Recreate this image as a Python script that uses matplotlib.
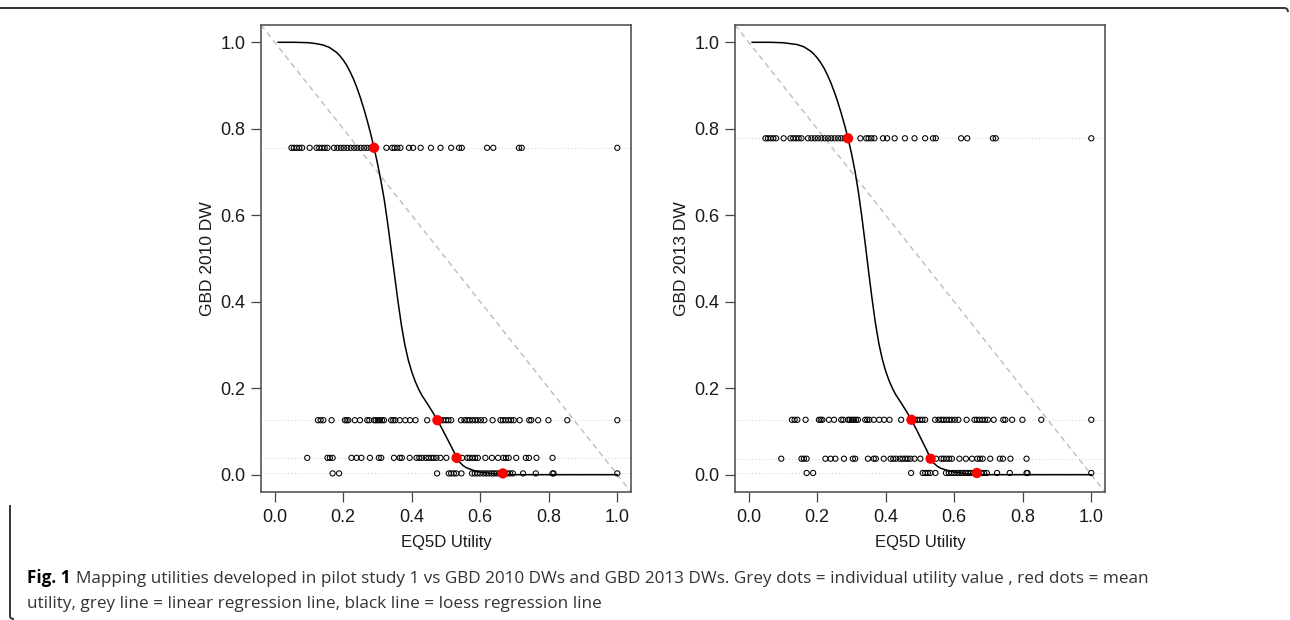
#!/usr/bin/env python3
"""
Mapping EQ5D utilities from pilot study 1 onto GBD 2010 and GBD 2013
disability weights: individual utilities per health state, mean utility,
a linear reference line and the loess fit.

Output: out.png
"""

import matplotlib.pyplot as plt
from matplotlib.path import Path
from matplotlib.patches import PathPatch

plt.rcParams["font.family"] = ["Liberation Sans", "DejaVu Sans"]

# ================================
# Data
# ================================

# individual EQ5D utilities, one list per health state (most to least severe)
UTIL_STATE_1 = [
    0.049, 0.056, 0.064, 0.072, 0.080, 0.102, 0.122, 0.130, 0.138, 0.146,
    0.154, 0.173, 0.183, 0.193, 0.202, 0.212, 0.222, 0.232, 0.241, 0.251,
    0.261, 0.270, 0.280, 0.326, 0.343, 0.350, 0.358, 0.367, 0.392, 0.404,
    0.426, 0.456, 0.484, 0.515, 0.538, 0.546, 0.620, 0.638, 0.713, 0.721,
    1.000,
]
UTIL_STATE_2 = [
    0.126, 0.134, 0.142, 0.166, 0.205, 0.210, 0.215, 0.234, 0.249, 0.270,
    0.276, 0.290, 0.295, 0.301, 0.307, 0.313, 0.319, 0.340, 0.346, 0.352,
    0.365, 0.381, 0.395, 0.411, 0.445, 0.484, 0.492, 0.500, 0.507, 0.515,
    0.544, 0.554, 0.562, 0.569, 0.577, 0.585, 0.593, 0.602, 0.612, 0.636,
    0.659, 0.666, 0.674, 0.682, 0.690, 0.698, 0.715, 0.743, 0.749, 0.769,
    0.799, 0.854, 1.000,
]
UTIL_STATE_3 = [
    0.095, 0.154, 0.161, 0.169, 0.224, 0.239, 0.253, 0.278, 0.304, 0.311,
    0.348, 0.365, 0.371, 0.394, 0.414, 0.422, 0.430, 0.441, 0.449, 0.457,
    0.464, 0.472, 0.484, 0.501, 0.547, 0.562, 0.569, 0.577, 0.585, 0.593,
    0.615, 0.634, 0.652, 0.667, 0.675, 0.683, 0.705, 0.733, 0.742, 0.764,
    0.811,
]
UTIL_STATE_4 = [
    0.169, 0.188, 0.474, 0.508, 0.515, 0.523, 0.530, 0.545, 0.576, 0.584,
    0.592, 0.600, 0.609, 0.617, 0.625, 0.633, 0.640, 0.648, 0.656, 0.679,
    0.687, 0.695, 0.725, 0.762, 0.811, 0.814, 1.000,
]

# mean utility per health state
MEAN_UTIL = [0.290, 0.475, 0.531, 0.666]

# disability weights of the four health states
DW_2010 = [0.756, 0.126, 0.039, 0.003]
DW_2013 = [0.778, 0.127, 0.037, 0.004]

# loess fits (utility -> DW)
LOESS_X = [
    0.01, 0.06, 0.10, 0.12, 0.14, 0.16, 0.18, 0.19, 0.20, 0.21, 0.22, 0.23,
    0.24, 0.25, 0.26, 0.27, 0.28, 0.29, 0.30, 0.31, 0.32, 0.33, 0.34, 0.35,
    0.36, 0.37, 0.38, 0.39, 0.40, 0.41, 0.42, 0.43, 0.445, 0.46, 0.475,
    0.49, 0.505, 0.52, 0.531, 0.54, 0.55, 0.56, 0.58, 0.60, 0.63, 0.66,
    0.70, 1.00,
]
LOESS_Y_2010 = [
    1.000, 1.000, 0.999, 0.997, 0.994, 0.988, 0.977, 0.969, 0.959, 0.947,
    0.932, 0.915, 0.895, 0.872, 0.847, 0.819, 0.789, 0.756, 0.720, 0.680,
    0.635, 0.580, 0.520, 0.460, 0.400, 0.345, 0.300, 0.265, 0.238, 0.216,
    0.198, 0.183, 0.165, 0.146, 0.126, 0.104, 0.081, 0.058, 0.040, 0.029,
    0.021, 0.016, 0.010, 0.006, 0.003, 0.001, 0.000, 0.000,
]
LOESS_Y_2013 = [
    1.000, 1.000, 0.999, 0.997, 0.995, 0.990, 0.980, 0.973, 0.964, 0.953,
    0.940, 0.924, 0.906, 0.885, 0.862, 0.836, 0.808, 0.778, 0.743, 0.703,
    0.655, 0.598, 0.535, 0.470, 0.407, 0.350, 0.303, 0.267, 0.239, 0.217,
    0.199, 0.184, 0.166, 0.147, 0.127, 0.104, 0.080, 0.056, 0.037, 0.027,
    0.020, 0.015, 0.010, 0.006, 0.003, 0.001, 0.000, 0.000,
]

TICKS = [0.0, 0.2, 0.4, 0.6, 0.8, 1.0]
TICK_LABELS = ["0.0", "0.2", "0.4", "0.6", "0.8", "1.0"]

CAPTION_BOLD = "Fig. 1"
CAPTION_1 = ("Mapping utilities developed in pilot study 1 vs GBD 2010 DWs and "
             "GBD 2013 DWs. Grey dots = individual utility value , red dots = mean")
CAPTION_2 = ("utility, grey line = linear regression line, "
             "black line = loess regression line")

W, H = 1290, 620


# ================================
# Helpers
# ================================


def draw_panel(ax, dws, loess_y, ylabel):
    states = [UTIL_STATE_1, UTIL_STATE_2, UTIL_STATE_3, UTIL_STATE_4]

    for dw, utils in zip(dws, states):
        ax.axhline(dw, color="#d9d9d9", lw=0.8, ls=(0, (1, 2)), zorder=1)
        ax.scatter(utils, [dw] * len(utils), s=14, facecolors="none",
                   edgecolors="black", linewidths=0.75, zorder=3)

    # linear reference line
    ax.axline((0, 1), slope=-1, color="#bdbdbd", lw=1.0, ls=(0, (4, 3)),
              zorder=2)
    ax.plot(LOESS_X, loess_y, color="black", lw=1.1, zorder=4)
    ax.scatter(MEAN_UTIL, dws, s=55, color="#ff0000", zorder=5,
               edgecolors="none")

    ax.set_xlim(-0.04, 1.04)
    ax.set_ylim(-0.04, 1.04)
    ax.set_xticks(TICKS, TICK_LABELS)
    ax.set_yticks(TICKS, TICK_LABELS)
    ax.tick_params(direction="out", length=7.5, width=0.9, color="#444444",
                   labelsize=13, labelcolor="#1a1a1a")
    ax.tick_params(axis="x", pad=5)
    ax.tick_params(axis="y", pad=3.5)
    for sp in ax.spines.values():
        sp.set_color("#555555")
        sp.set_linewidth(1.2)

    ax.set_xlabel("EQ5D Utility", fontsize=12, color="#1a1a1a", labelpad=6)
    ax.set_ylabel(ylabel, fontsize=12.5, color="#1a1a1a", labelpad=4)


# ================================
# Main
# ================================

fig = plt.figure(figsize=(W / 100, H / 100), dpi=100)

ax1 = fig.add_axes([261 / W, 1 - 492 / H, 370 / W, 467 / H])
ax2 = fig.add_axes([735 / W, 1 - 492 / H, 370 / W, 467 / H])

draw_panel(ax1, DW_2010, LOESS_Y_2010, "GBD 2010 DW")
draw_panel(ax2, DW_2013, LOESS_Y_2013, "GBD 2013 DW")

# frame around the figure: top rule with a rounded end, left rule by the caption
top = Path([(0, H - 8), (W - 6, H - 8), (W - 2, H - 8), (W - 2, H - 12)],
           [Path.MOVETO, Path.LINETO, Path.CURVE3, Path.CURVE3])
left = Path([(10, H - 505), (10, 4), (10, 1), (14, 1)],
            [Path.MOVETO, Path.LINETO, Path.CURVE3, Path.CURVE3])
for p in (top, left):
    fig.add_artist(PathPatch(p, transform=None, fill=False,
                             edgecolor="#333333", lw=1.4))

cap_font = ["Open Sans", "DejaVu Sans"]
cap_size = 12.3
fig_lbl = fig.text(27 / W, 1 - 587 / H, CAPTION_BOLD, fontsize=cap_size,
                   fontweight="bold", family=cap_font, color="black",
                   va="bottom", ha="left")
fig.add_artist(plt.Annotation(CAPTION_1, xy=(1, 0), xycoords=fig_lbl,
                              xytext=(4, 0), textcoords="offset points",
                              fontsize=cap_size, family=cap_font,
                              color="#333333", va="bottom", ha="left"))
fig.text(27 / W, 1 - 612 / H, CAPTION_2, fontsize=cap_size, family=cap_font,
         color="#333333", va="bottom", ha="left")

fig.savefig("out.png", dpi=100)
